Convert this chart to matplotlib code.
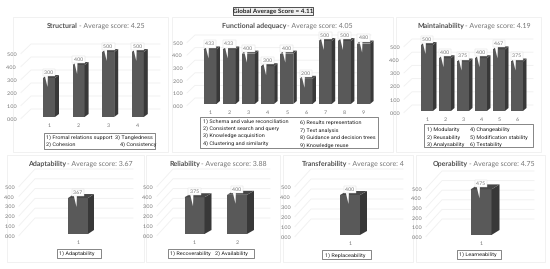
import matplotlib
matplotlib.use("Agg")
from matplotlib import pyplot as plt
from matplotlib.patches import Rectangle

plt.rcParams['font.family'] = ['Lato', 'DejaVu Sans']
plt.rcParams['text.hinting'] = 'no_hinting'
plt.rcParams['text.hinting_factor'] = 8

W, H = 550, 269

# values per panel
structural = [3.00, 4.00, 5.00, 5.00]
functional = [4.33, 4.33, 4.00, 3.00, 4.00, 2.00, 5.00, 5.00, 4.80]
maintainability = [5.00, 4.00, 3.75, 4.00, 4.67, 3.75]
adaptability = [3.67]
reliability = [3.75, 4.00]
transferability = [4.00]
operability = [4.75]

yticks = [0, 1, 2, 3, 4, 5]
FRONT = "#595959"
SIDE = "#383838"
TOP = "#474747"
GRID = "#f0f0f0"
FRAME = "#efefef"
TXT = "#737373"
DARK = "#505050"

fig = plt.figure(figsize=(W / 100, H / 100), dpi=100)
bg = fig.add_axes([0, 0, 1, 1])
bg.set_xlim(0, W)
bg.set_ylim(H, 0)
bg.axis("off")


def panel(frame, name, avg, values, first, step, bar_w, y0, y5, depth, tick_x, back, right, title_x):
    # frame is x0,y0,x1,y1 in pixels, the rest places the plot area in pixels
    x0, t, x1, b = frame
    bg.add_patch(Rectangle((x0, t), x1 - x0, b - t, fc="white", ec=FRAME, lw=0.6))
    left = first - step / 2
    ax = fig.add_axes([left / W, 1 - y0 / H, step * len(values) / W, (y0 - y5) / H])
    ax.patch.set_alpha(0)
    ax.set_xlim(-0.5, len(values) - 0.5)
    ax.set_ylim(0, 5)
    for s in ax.spines.values():
        s.set_visible(False)
    ux = 1 / step           # one pixel along x in category units
    uy = 5 / (y0 - y5)      # one pixel along y in score units
    dx, dy = depth
    bx, by = back
    # wall grid and the slanted floor lines
    for v in yticks:
        ax.plot([(tick_x + 4 - left) * ux - 0.5, (tick_x + 4 + bx - left) * ux - 0.5, (right - left) * ux - 0.5],
                [v - 1.5 * uy, v + by * uy, v + by * uy], color=GRID, lw=0.6, clip_on=False, zorder=1)
    hw = bar_w / 2 * ux
    for i, v in enumerate(values):
        ax.bar(i, v, width=bar_w * ux, color=FRONT, zorder=3)
        ax.fill([i + hw, i + hw + dx * ux, i + hw + dx * ux, i + hw],
                [0, dy * uy, v + dy * uy, v], color=SIDE, lw=0, zorder=3, clip_on=False)
        ax.fill([i - hw, i + hw, i + hw + dx * ux, i - hw + dx * ux],
                [v, v, v + dy * uy, v + dy * uy], color=TOP, lw=0, zorder=3, clip_on=False)
        # callout with its spike running down into the bar
        lab_y = v + 5.5 * uy
        ax.fill([i - 5 * ux, i - 1 * ux, i - 1.5 * ux],
                [lab_y, lab_y, v - 9 * uy], color="white", lw=0, zorder=4, clip_on=False)
        ax.text(i, lab_y, f"{v:.2f}", ha="center", va="center", fontsize=3.7, color=TXT, zorder=5, clip_on=False,
                bbox=dict(boxstyle="square,pad=0.25", fc="white", ec="#dddddd", lw=0.3))
    ax.set_xticks(range(len(values)))
    ax.set_xticklabels([str(i + 1) for i in range(len(values))], fontsize=3.9, color=TXT)
    ax.set_yticks(yticks)
    ax.set_yticklabels([f"{v:.2f}" for v in yticks], fontsize=3.9, color=TXT, va="top")
    ax.tick_params(axis="x", length=0, pad=4.5)
    ax.tick_params(axis="y", length=0, pad=(left - tick_x) * 0.72)
    # title, bold name then the grey score part
    t1 = bg.text(title_x, t + 9, name, fontsize=5.0, fontweight="bold", color=DARK, va="center", ha="left")
    fig.canvas.draw()
    end = t1.get_window_extent().x1
    bg.text(end + 1, t + 9, f"- Average score: {avg}", fontsize=5.0, color=TXT, va="center", ha="left")


def legend(box, lines):
    x0, t, x1, b = box
    bg.add_patch(Rectangle((x0, t), x1 - x0, b - t, fc="white", ec="#555555", lw=0.5, zorder=6))
    for x, y, s in lines:
        bg.text(x, y, s, fontsize=3.95, family="Roboto", color="#222222", va="center", ha="left", zorder=7)


bg.add_patch(Rectangle((233, 7), 80, 8, fc="#f0f0f0", ec="#333333", lw=0.6))
bg.text(273, 11, "Global Average Score = 4.11", fontsize=4.6, fontweight="bold", color="#222222", ha="center", va="center")

panel((13, 17, 168, 152), "Structural", "4.25", structural, 49, 29.6, 12, 117, 52, (4, 3), 17, (10, 8), 160, 47)
panel((172, 17, 393, 152), "Functional adequacy", "4.05", functional, 210, 19.2, 13, 104, 41, (3.5, 3), 183, (8, 6), 371, 222)
panel((396, 17, 541, 152), "Maintainability", "4.19", maintainability, 427, 18, 12, 111, 45, (3.5, 3), 400, (8, 6), 533, 417)
panel((7, 155, 144, 262), "Adaptability", "3.67", adaptability, 78, 40, 20, 234, 185, (6, 4), 15, (16, 16), 133, 28)
panel((146, 155, 280, 262), "Reliability", "3.88", reliability, 194.5, 42.5, 20, 234, 185, (7, 4), 153, (16, 16), 270, 169)
panel((283, 155, 413, 262), "Transferability", "4", transferability, 350, 40, 20, 235, 185, (7, 4), 291, (16, 16), 403, 302)
panel((416, 155, 545, 262), "Operability", "4.75", operability, 481, 40, 21, 235, 187, (8, 5), 422, (16, 16), 534, 433)

legend((44, 133, 155, 149), [(46, 137.5, "1) Fromal relations support"), (115, 137.5, "3) Tangledness"),
                             (46, 144.5, "2) Cohesion"), (120, 144.5, "4) Consistency")])
legend((200, 117, 378, 148), [(203, 121, "1) Schema and value reconciliation"), (203, 128.5, "2) Consistent search and query"),
                              (203, 135.5, "3) Knowledge acquisition"), (203, 143, "4) Clustering and similarity"),
                              (300, 122.5, "6) Results representation"), (300, 130.5, "7) Text analysis"),
                              (300, 137.5, "8) Guidance and decision trees"), (300, 145, "9) Knowledge reuse")])
legend((424, 124, 533, 147), [(427, 129.5, "1) Modularity"), (470, 129.5, "4) Changeability"),
                              (427, 137.5, "2) Reusability"), (470, 137.5, "5) Modification stability"),
                              (427, 144, "3) Analysability"), (470, 144, "6) Testability")])
legend((57, 249, 101, 257.5), [(59, 253.5, "1) Adaptability")])
legend((168, 249, 254, 257.5), [(170, 253.5, "1) Recoverability"), (215, 253.5, "2) Availability")])
legend((322, 250, 371, 259), [(325, 255, "1) Replaceability")])
legend((457, 250, 501, 258.5), [(459, 254.5, "1) Learneability")])

fig.savefig("out.png", dpi=100)
